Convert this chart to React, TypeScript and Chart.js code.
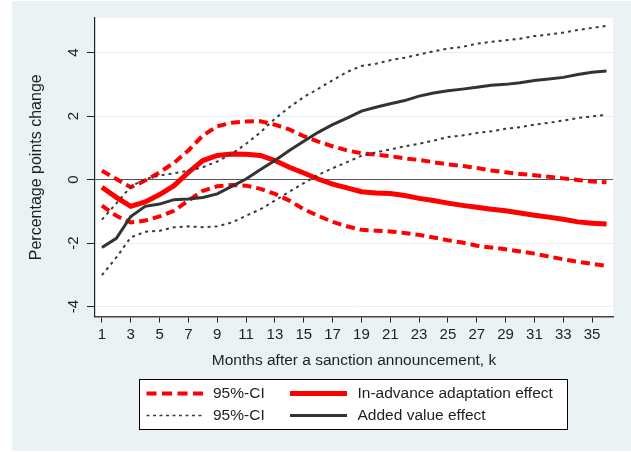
import React, { useEffect, useRef } from "react";
import { Chart, registerables } from "chart.js";

Chart.register(...registerables);

const MONTHS = [1, 2, 3, 4, 5, 6, 7, 8, 9, 10, 11, 12, 13, 14, 15, 16, 17, 18, 19, 20, 21, 22, 23, 24, 25, 26, 27, 28, 29, 30, 31, 32, 33, 34, 35, 36];
const X_TICKS = [1, 3, 5, 7, 9, 11, 13, 15, 17, 19, 21, 23, 25, 27, 29, 31, 33, 35];
const Y_TICKS = [-4, -2, 0, 2, 4];

const RED_UPPER = [0.28, 0.02, -0.24, -0.03, 0.23, 0.53, 0.92, 1.39, 1.68, 1.79, 1.83, 1.84, 1.73, 1.58, 1.37, 1.2, 1.05, 0.92, 0.83, 0.79, 0.74, 0.67, 0.62, 0.55, 0.48, 0.43, 0.37, 0.29, 0.23, 0.18, 0.14, 0.09, 0.04, -0.01, -0.06, -0.08];
const RED_EFFECT = [-0.24, -0.56, -0.84, -0.7, -0.47, -0.19, 0.23, 0.6, 0.76, 0.81, 0.8, 0.76, 0.6, 0.39, 0.21, 0.02, -0.14, -0.26, -0.38, -0.42, -0.44, -0.5, -0.59, -0.66, -0.74, -0.81, -0.87, -0.93, -0.98, -1.05, -1.12, -1.18, -1.25, -1.33, -1.37, -1.4];
const RED_LOWER = [-0.82, -1.14, -1.35, -1.29, -1.16, -0.98, -0.66, -0.35, -0.21, -0.17, -0.19, -0.29, -0.45, -0.66, -0.93, -1.14, -1.33, -1.47, -1.58, -1.61, -1.63, -1.68, -1.74, -1.82, -1.91, -1.98, -2.08, -2.14, -2.19, -2.26, -2.33, -2.42, -2.51, -2.59, -2.65, -2.72];
const BLACK_EFFECT = [-2.14, -1.85, -1.16, -0.84, -0.77, -0.63, -0.61, -0.56, -0.45, -0.21, 0.02, 0.32, 0.6, 0.92, 1.21, 1.49, 1.73, 1.94, 2.16, 2.28, 2.39, 2.49, 2.63, 2.73, 2.8, 2.85, 2.91, 2.97, 3.0, 3.05, 3.12, 3.17, 3.22, 3.31, 3.38, 3.42];
const BLACK_UPPER = [-1.26, -0.75, -0.22, 0.02, 0.13, 0.2, 0.28, 0.39, 0.57, 0.81, 1.13, 1.49, 1.92, 2.28, 2.6, 2.86, 3.13, 3.39, 3.58, 3.65, 3.76, 3.84, 3.94, 4.04, 4.13, 4.18, 4.28, 4.34, 4.39, 4.44, 4.52, 4.57, 4.63, 4.71, 4.78, 4.84];
const BLACK_LOWER = [-3.01, -2.45, -1.82, -1.64, -1.61, -1.5, -1.47, -1.5, -1.47, -1.35, -1.14, -0.93, -0.66, -0.38, -0.11, 0.15, 0.36, 0.55, 0.75, 0.86, 0.95, 1.05, 1.13, 1.23, 1.34, 1.39, 1.47, 1.52, 1.6, 1.65, 1.73, 1.79, 1.86, 1.94, 1.99, 2.04];

const LEGEND_CI = "95%-CI";
const LEGEND_RED = "In-advance adaptation effect";
const LEGEND_BLACK = "Added value effect";
const X_TITLE = "Months after a sanction announcement, k";
const Y_TITLE = "Percentage points change";

const BG = "#eaf2f3";
const TEXT = "#1e1e1e";
const RED = "#ff0000";
const DARK = "#333333";
const DOT_COLOR = "#3a3a3a";
const FONT = "Arial, 'Liberation Sans', sans-serif";

const RED_DASH = [9, 5];
const DOT_DASH = [3, 4];

export default function App() {
  const ref = useRef<HTMLCanvasElement>(null);

  useEffect(() => {
    const canvas = ref.current;
    if (!canvas) return;
    const pts = (arr: number[]) => MONTHS.map((m, i) => ({ x: m, y: arr[i] }));

    const bgPlugin = {
      id: "bgPlugin",
      beforeDraw(chart: any) {
        const { ctx, chartArea: a } = chart;
        ctx.save();
        ctx.fillStyle = "#ffffff";
        ctx.fillRect(0, 0, chart.width, chart.height);
        ctx.fillStyle = BG;
        ctx.fillRect(12, 1, chart.width - 12, 450);
        ctx.fillStyle = "#ffffff";
        ctx.fillRect(a.left, a.top, a.right - a.left, a.bottom - a.top);
        ctx.restore();
      },
    };

    const yLabelPlugin = {
      id: "yLabelPlugin",
      afterDraw(chart: any) {
        const { ctx } = chart;
        const ys = chart.scales.y;
        ctx.save();
        ctx.fillStyle = TEXT;
        ctx.font = `15px ${FONT}`;
        ctx.textAlign = "center";
        ctx.textBaseline = "middle";
        for (const v of Y_TICKS) {
          ctx.save();
          ctx.translate(74, ys.getPixelForValue(v));
          ctx.rotate(-Math.PI / 2);
          ctx.fillText(String(v), 0, 0);
          ctx.restore();
        }
        ctx.restore();
      },
    };

    const legendPlugin = {
      id: "legendPlugin",
      afterDraw(chart: any) {
        const { ctx } = chart;
        ctx.save();
        ctx.fillStyle = "#ffffff";
        ctx.fillRect(139.5, 379.5, 428, 50);
        ctx.strokeStyle = "#000000";
        ctx.lineWidth = 1;
        ctx.setLineDash([]);
        ctx.strokeRect(139.5, 379.5, 428, 50);

        const sample = (x1: number, x2: number, y: number, color: string, w: number, dash: number[]) => {
          ctx.beginPath();
          ctx.strokeStyle = color;
          ctx.lineWidth = w;
          ctx.setLineDash(dash);
          ctx.lineCap = "butt";
          ctx.moveTo(x1, y);
          ctx.lineTo(x2, y);
          ctx.stroke();
        };
        const r1 = 393.5;
        const r2 = 415.5;
        sample(146.5, 204, r1, RED, 4, [10, 5.5]);
        sample(290, 347, r1, RED, 5, []);
        sample(146.5, 204, r2, DOT_COLOR, 1.5, [3, 3.5]);
        sample(290, 347, r2, DARK, 3, []);

        ctx.setLineDash([]);
        ctx.fillStyle = TEXT;
        ctx.font = `15.5px ${FONT}`;
        ctx.textAlign = "left";
        ctx.textBaseline = "middle";
        ctx.fillText(LEGEND_CI, 213, r1);
        ctx.fillText(LEGEND_RED, 357.5, r1);
        ctx.fillText(LEGEND_CI, 213, r2);
        ctx.fillText(LEGEND_BLACK, 357.5, r2);
        ctx.restore();
      },
    };

    const chart = new Chart(canvas, {
      type: "line",
      data: {
        datasets: [
          { label: LEGEND_CI, data: pts(RED_UPPER), borderColor: RED, borderWidth: 4, borderDash: RED_DASH, pointRadius: 0, tension: 0, fill: false, order: 6 },
          { label: LEGEND_CI, data: pts(RED_LOWER), borderColor: RED, borderWidth: 4, borderDash: RED_DASH, pointRadius: 0, tension: 0, fill: false, order: 5 },
          { label: LEGEND_RED, data: pts(RED_EFFECT), borderColor: RED, borderWidth: 5, pointRadius: 0, tension: 0, fill: false, order: 4 },
          { label: LEGEND_CI, data: pts(BLACK_UPPER), borderColor: DOT_COLOR, borderWidth: 2, borderDash: DOT_DASH, pointRadius: 0, tension: 0, fill: false, order: 3 },
          { label: LEGEND_CI, data: pts(BLACK_LOWER), borderColor: DOT_COLOR, borderWidth: 2, borderDash: DOT_DASH, pointRadius: 0, tension: 0, fill: false, order: 2 },
          { label: LEGEND_BLACK, data: pts(BLACK_EFFECT), borderColor: DARK, borderWidth: 3, pointRadius: 0, tension: 0, fill: false, order: 1 },
        ],
      },
      options: {
        animation: false,
        responsive: false,
        devicePixelRatio: 1,
        events: [],
        layout: { padding: { left: 12, top: 18, right: 18, bottom: 0 } },
        plugins: { legend: { display: false }, tooltip: { enabled: false }, title: { display: false } },
        scales: {
          x: {
            type: "linear",
            min: 0.52,
            max: 36.45,
            afterBuildTicks: (s: any) => {
              s.ticks = X_TICKS.map((v) => ({ value: v }));
            },
            afterFit: (s: any) => {
              s.height = 135.5;
            },
            grid: { drawOnChartArea: false, drawTicks: true, tickLength: 6, tickColor: "#222222", tickWidth: 1 },
            border: { display: true, color: "#444444", width: 1.5 },
            ticks: {
              autoSkip: false,
              maxRotation: 0,
              minRotation: 0,
              padding: 3.5,
              color: TEXT,
              font: { family: FONT, size: 15 },
              callback: (v: any) => String(v),
            },
            title: {
              display: true,
              text: X_TITLE,
              color: TEXT,
              font: { family: FONT, size: 15.5 },
              padding: { top: 0, bottom: 81.5 },
            },
          },
          y: {
            type: "linear",
            min: -4.31,
            max: 5.09,
            afterBuildTicks: (s: any) => {
              s.ticks = Y_TICKS.map((v) => ({ value: v }));
            },
            afterFit: (s: any) => {
              s.width = 83;
            },
            grid: {
              drawOnChartArea: true,
              drawTicks: true,
              tickLength: 8,
              tickColor: "#222222",
              tickWidth: 1,
              color: (c: any) => (c.tick && c.tick.value === 0 ? "#555555" : "#e6eff1"),
              lineWidth: 1,
            },
            border: { display: true, color: "#222222", width: 1.2 },
            ticks: { display: false },
            title: {
              display: true,
              text: Y_TITLE,
              color: TEXT,
              font: { family: FONT, size: 16 },
              padding: { top: 15, bottom: 0 },
            },
          },
        },
      },
      plugins: [bgPlugin, yLabelPlugin, legendPlugin],
    } as any);

    return () => chart.destroy();
  }, []);

  return (
    <div style={{ position: "fixed", left: 0, top: 0, width: 631, height: 452, background: "#ffffff" }}>
      <canvas ref={ref} width={631} height={452} style={{ display: "block", width: 631, height: 452 }} />
    </div>
  );
}
